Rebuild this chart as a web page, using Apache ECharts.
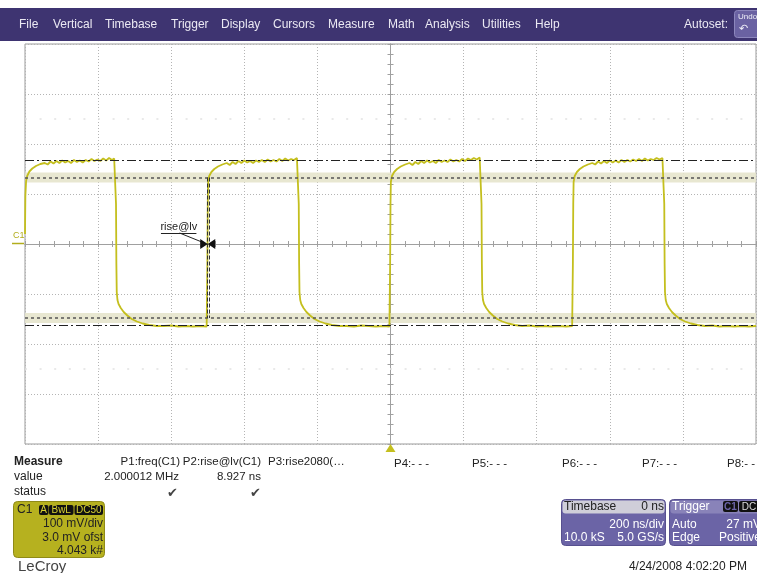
<!DOCTYPE html>
<html><head><meta charset="utf-8">
<script src="https://cdn.jsdelivr.net/npm/echarts@6/dist/echarts.min.js"></script>
<style>html,body{margin:0;padding:0;background:#fff}#c{width:757px;height:573px}</style>
</head><body><div id="c"></div><script>
// Channel C1 acquisition, time in ns, amplitude in mV (100 mV/div, 200 ns/div)
const trace1 = [[-1000,20],[-999,96],[-997,126],[-994,136],[-988,145],[-980,151],[-970,156],[-958,160],[-946,162],[-938,159],[-930,165],[-922,161],[-914,166],[-906,162],[-898,167],[-890,163],[-882,166],[-874,162],[-866,168],[-858,164],[-850,167],[-842,163],[-834,168],[-826,165],[-818,170],[-810,166],[-802,169],[-794,166],[-786,171],[-778,167],[-770,172],[-762,168],[-756,171],[-752,170],
  [-751,80],[-750,-40],[-749,-96],[-747,-112],[-744,-120],[-738,-128],[-730,-136],[-720,-143],[-708,-150],[-694,-155],[-678,-159],[-660,-162],[-640,-164],[-620,-164],[-600,-163],[-580,-165],[-560,-164],[-540,-165],[-520,-164],[-503,-165]];
const trace2 = [[-501,-40],[-500,80],[-499,124],[-496,136],[-490,144],[-482,150],[-472,155],[-460,159],[-448,162],[-440,158],[-432,164],[-424,160],[-416,166],[-408,162],[-400,167],[-392,163],[-384,166],[-376,162],[-368,167],[-360,164],[-352,168],[-344,164],[-336,169],[-328,165],[-320,168],[-312,165],[-304,170],[-296,166],[-288,171],[-280,167],[-272,170],[-264,168],[-256,172],[-252,170],
  [-251,80],[-250,-40],[-249,-96],[-247,-112],[-244,-120],[-238,-128],[-230,-136],[-220,-143],[-208,-150],[-194,-155],[-178,-159],[-160,-162],[-140,-164],[-120,-164],[-100,-165],[-80,-163],[-60,-164],[-40,-165],[-20,-164],[-3,-165]];
const trace3 = [[-1,-40],[0,80],[1,124],[4,136],[10,144],[18,150],[28,155],[40,159],[52,162],[60,158],[68,164],[76,160],[84,166],[92,162],[100,167],[108,163],[116,166],[124,162],[132,168],[140,164],[148,167],[156,164],[164,169],[172,165],[180,168],[188,165],[196,170],[204,166],[212,171],[220,168],[228,172],[236,169],[244,173],[248,171],
  [249,80],[250,-40],[251,-96],[253,-112],[256,-120],[262,-128],[270,-136],[280,-143],[292,-150],[306,-155],[322,-159],[340,-162],[360,-164],[380,-163],[400,-165],[420,-164],[440,-165],[460,-164],[480,-165],[497,-164]];
const trace4 = [[499,-40],[500,80],[501,124],[504,136],[510,144],[518,150],[528,155],[540,159],[552,162],[560,159],[568,165],[576,161],[584,166],[592,162],[600,167],[608,163],[616,167],[624,163],[632,168],[640,164],[648,168],[656,165],[664,169],[672,166],[680,170],[688,166],[696,171],[704,167],[712,170],[720,168],[728,172],[736,169],[744,172],[748,171],
  [749,80],[750,-40],[751,-96],[753,-112],[756,-120],[762,-128],[770,-136],[780,-143],[792,-150],[806,-155],[822,-159],[840,-162],[860,-164],[880,-163],[900,-165],[920,-164],[940,-165],[960,-164],[980,-165],[1000,-164]];

// Measurement reference levels (mV)
const levelTop = 167, levelBase = -162;
const levelHigh = 133, levelLow = -148;
const bandHigh = [123, 143], bandLow = [-158, -138];
const ghostRows = [250, -250];
const cursorTime = -500;
const cursorLabel = 'rise@lv';

// Menu and panel texts
const menuItems = ['File','Vertical','Timebase','Trigger','Display','Cursors','Measure','Math','Analysis','Utilities','Help'];
const measureHeads = ['P1:freq(C1)','P2:rise@lv(C1)','P3:rise2080(…'];
const measureValues = ['2.000012 MHz','8.927 ns'];
const emptyParams = ['P4:- - -','P5:- - -','P6:- - -','P7:- - -','P8:- - -'];
const chanInfo = ['100 mV/div','3.0 mV ofst','4.043 k#'];
const dateText = '4/24/2008 4:02:20 PM';

const FONT = '"Liberation Sans", Arial, sans-serif';
const TRACE = '#c4bf1e';
const trace = trace1.concat(trace2, trace3, trace4);

const chart = echarts.init(document.getElementById('c'), null, {renderer: 'canvas'});

function txt(text, x, y, opt) {
  opt = opt || {};
  return {type: 'text', z: 100, style: {text: text, x: x, y: y, fill: opt.fill || '#222',
    font: (opt.weight || 'normal') + ' ' + (opt.size || 12) + 'px ' + FONT,
    textAlign: opt.align || 'left', align: opt.align || 'left',
    textVerticalAlign: 'middle', verticalAlign: 'middle'}};
}
function rect(x, y, w, h, fill, r, stroke) {
  return {type: 'rect', z: 90, shape: {x: x, y: y, width: w, height: h, r: r || 0},
    style: {fill: fill, stroke: stroke || null, lineWidth: 1}};
}

const menuX = [19, 53, 105, 171, 221, 273, 328, 388, 425, 482, 535];
const graphics = [];
graphics.push(rect(0, 8, 757, 33, '#3e3471'));
menuItems.forEach((m, i) => graphics.push(txt(m, menuX[i], 25, {fill: '#ebe9f3'})));
graphics.push(txt('Autoset:', 728, 25, {fill: '#ebe9f3', align: 'right'}));
graphics.push(rect(734.5, 10.5, 30, 27, '#6a62a2', 3, '#8d87bd'));
graphics.push(txt('Undo', 738, 17, {fill: '#f0f0f8', size: 8}));
graphics.push(txt('↶', 739, 29, {fill: '#f0f0f8', size: 11}));

// channel marker on the left edge
graphics.push(txt('C1', 13, 236, {fill: '#b2ad1c', size: 9}));
graphics.push({type: 'line', z: 100, shape: {x1: 12, y1: 243.5, x2: 24, y2: 243.5}, style: {stroke: '#b2ad1c', lineWidth: 1.5}});

// measurement table
graphics.push(txt('Measure', 14, 462, {weight: 'bold'}));
graphics.push(txt('value', 14, 477));
graphics.push(txt('status', 14, 492));
graphics.push(txt(measureHeads[0], 180, 462, {align: 'right', size: 11.5}));
graphics.push(txt(measureHeads[1], 261, 462, {align: 'right', size: 11.5}));
graphics.push(txt(measureHeads[2], 268, 462, {size: 11.5}));
graphics.push(txt(measureValues[0], 179, 477, {align: 'right', size: 11.5}));
graphics.push(txt(measureValues[1], 261, 477, {align: 'right', size: 11.5}));
graphics.push(txt('✔', 172, 493, {fill: '#444', size: 13, align: 'center'}));
graphics.push(txt('✔', 255, 493, {fill: '#444', size: 13, align: 'center'}));
const emptyX = [394, 472, 562, 642, 727];
emptyParams.forEach((p, i) => graphics.push(txt(p, emptyX[i], 464, {size: 11.5})));

// channel descriptor box
graphics.push(rect(13.5, 501.5, 91, 56, '#b6b11f', 4, '#8f8a17'));
graphics.push(txt('C1', 17, 510, {fill: '#222'}));
graphics.push(rect(39, 505, 9.5, 10, '#111', 2));
graphics.push(rect(49, 505, 24.5, 10, '#111', 2));
graphics.push(rect(74.5, 505, 28.5, 10, '#111', 2));
graphics.push(txt('A', 43.7, 510.5, {fill: '#d8d232', size: 10, align: 'center'}));
graphics.push(txt('BwL', 61.2, 510.5, {fill: '#d8d232', size: 10, align: 'center'}));
graphics.push(txt('DC50', 88.8, 510.5, {fill: '#d8d232', size: 10, align: 'center'}));
graphics.push(txt(chanInfo[0], 103, 524, {align: 'right'}));
graphics.push(txt(chanInfo[1], 103, 538, {align: 'right'}));
graphics.push(txt(chanInfo[2], 103, 551, {align: 'right'}));
graphics.push(txt('LeCroy', 18, 567, {fill: '#444', size: 15}));

// timebase box
graphics.push(rect(561.5, 499.5, 104, 46, '#6b64a6', 4, '#57508f'));
graphics.push(rect(562.5, 500.5, 102, 13, '#cfced9', 3));
graphics.push(txt('Timebase', 564, 507));
graphics.push(txt('0 ns', 664, 507, {align: 'right'}));
graphics.push(txt('200 ns/div', 664, 525, {fill: '#fff', align: 'right'}));
graphics.push(txt('10.0 kS', 564, 538, {fill: '#fff'}));
graphics.push(txt('5.0 GS/s', 664, 538, {fill: '#fff', align: 'right'}));
// trigger box
graphics.push(rect(669.5, 499.5, 100, 46, '#6b64a6', 4, '#57508f'));
graphics.push(rect(670.5, 500.5, 98, 13, '#8983b9', 3));
graphics.push(txt('Trigger', 672, 507, {fill: '#fff'}));
graphics.push(rect(723, 501, 15, 11, '#111', 2));
graphics.push(rect(739, 501, 20, 11, '#111', 2));
graphics.push(txt('C1', 730.5, 506.8, {fill: '#6b64a6', size: 10, align: 'center', weight: 'bold'}));
graphics.push(txt('DC', 749, 506.8, {fill: '#ddd', size: 10, align: 'center'}));
graphics.push(txt('Auto', 672, 525, {fill: '#fff'}));
graphics.push(txt('27 mV', 761, 525, {fill: '#fff', align: 'right'}));
graphics.push(txt('Edge', 672, 538, {fill: '#fff'}));
graphics.push(txt('Positive', 761, 538, {fill: '#fff', align: 'right'}));
graphics.push(txt(dateText, 747, 567, {align: 'right'}));

const gridLine = {show: true, lineStyle: {color: '#b4b4b4', type: [1, 2], width: 1}};
const centerLine = {show: true, onZero: true, lineStyle: {color: '#a0a0a0', width: 1}};
const tickStyle = {show: true, inside: false, length: 3, lineStyle: {color: '#a0a0a0'}};
const minorStyle = {show: true, splitNumber: 5, length: 3, lineStyle: {color: '#a0a0a0'}};

function dashDot(v) { return {yAxis: v, lineStyle: {color: '#222', width: 1, type: [9, 3, 2, 3]}}; }
function dotted(v) { return {yAxis: v, lineStyle: {color: '#555', width: 1.5, type: [3, 3]}}; }
function ghost(v) { return {yAxis: v, lineStyle: {color: '#e2e2e2', width: 1.5, type: [2, 12.6]}}; }

const option = {
  animation: false,
  backgroundColor: '#fff',
  grid: {left: 25, top: 44, width: 731, height: 400, show: true, borderColor: '#9a9a9a', borderWidth: 1, backgroundColor: '#fff'},
  xAxis: [
    {type: 'value', min: -1000, max: 1000, interval: 200, axisLine: centerLine, axisTick: tickStyle,
      minorTick: minorStyle, axisLabel: {show: false}, splitLine: gridLine},
    {type: 'value', position: 'top', min: -1000, max: 1000, interval: 200, axisLine: centerLine, axisTick: tickStyle,
      minorTick: minorStyle, axisLabel: {show: false}, splitLine: {show: false}}
  ],
  yAxis: [
    {type: 'value', min: -400, max: 400, interval: 100, axisLine: centerLine, axisTick: tickStyle,
      minorTick: minorStyle, axisLabel: {show: false}, splitLine: gridLine},
    {type: 'value', position: 'right', min: -400, max: 400, interval: 100, axisLine: centerLine, axisTick: tickStyle,
      minorTick: minorStyle, axisLabel: {show: false}, splitLine: {show: false}}
  ],
  series: [
    {
      name: 'levels', type: 'line', data: [], z: 1, silent: true,
      markArea: {silent: true, itemStyle: {color: '#e6e4cc', opacity: 0.9},
        data: [[{yAxis: bandHigh[0]}, {yAxis: bandHigh[1]}], [{yAxis: bandLow[0]}, {yAxis: bandLow[1]}]]},
      markLine: {silent: true, symbol: ['none', 'none'], label: {show: false},
        data: [dashDot(levelTop), dashDot(levelBase), dotted(levelHigh), dotted(levelLow), ghost(ghostRows[0]), ghost(ghostRows[1])]}
    },
    {
      name: 'C1', type: 'line', data: trace, z: 3, showSymbol: false, symbol: 'none',
      lineStyle: {color: TRACE, width: 1.8}, silent: true
    },
    {
      name: 'cursor', type: 'line', data: [], z: 5, silent: true,
      markLine: {silent: true, symbol: ['none', 'none'], label: {show: false},
        data: [
          [{coord: [cursorTime - 2, levelHigh], lineStyle: {color: '#333', width: 1, type: [4, 2]}}, {coord: [cursorTime - 2, levelLow]}],
          [{coord: [cursorTime + 5, levelHigh], lineStyle: {color: '#333', width: 1, type: [4, 2]}}, {coord: [cursorTime + 5, levelLow]}],
          [{coord: [cursorTime - 128, 22], lineStyle: {color: '#222', width: 1, type: 'solid'}}, {coord: [cursorTime - 31, 22]}],
          [{coord: [cursorTime - 77, 22], lineStyle: {color: '#222', width: 1, type: 'solid'}}, {coord: [cursorTime - 6, 1]}]
        ]},
      markPoint: {silent: true,
        data: [
          {coord: [cursorTime, 0], symbol: 'path://M0,0L10,6L0,12ZM20,0L10,6L20,12Z', symbolSize: [15, 10],
            itemStyle: {color: '#111'}, label: {show: false}},
          {coord: [cursorTime - 79, 34], symbol: 'rect', symbolSize: 1, itemStyle: {color: 'rgba(0,0,0,0)'},
            label: {show: true, position: 'inside', formatter: cursorLabel, color: '#222', fontSize: 11, fontFamily: FONT}}
        ]}
    }
  ],
  graphic: graphics
};
chart.setOption(option);

// trigger position arrow under the time axis
const tx = chart.convertToPixel({xAxisIndex: 0}, 0);
const by = 444;
chart.setOption({graphic: graphics.concat([{type: 'polygon', z: 100,
  shape: {points: [[tx - 5, by + 8], [tx + 5, by + 8], [tx, by]]}, style: {fill: '#c4bf1e'}}])});
</script></body></html>
